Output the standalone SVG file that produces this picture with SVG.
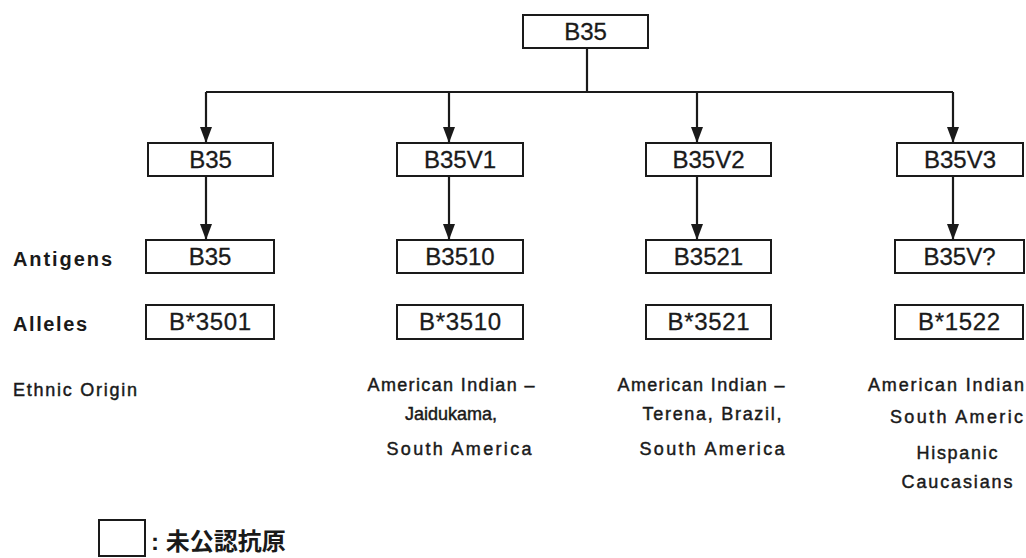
<svg xmlns="http://www.w3.org/2000/svg" width="1026" height="558" viewBox="0 0 1026 558">
<style>
.box{fill:#fff;stroke:#1a1a1a;stroke-width:2}
.bt{font-family:"Liberation Sans",Arial,sans-serif;font-size:24px;fill:#1a1a1a;stroke:#1a1a1a;stroke-width:0.3;text-anchor:middle}
.lbl{font-family:"Liberation Sans",Arial,sans-serif;font-size:20px;font-weight:bold;fill:#1a1a1a}
.eth{font-family:"Liberation Sans",Arial,sans-serif;font-size:18px;fill:#1a1a1a;stroke:#1a1a1a;stroke-width:0.45;text-anchor:middle}
.ln{fill:none;stroke:#1a1a1a;stroke-width:2.2}
.leg{font-family:"Liberation Sans","Noto Sans CJK JP",sans-serif;font-size:24px;font-weight:bold;fill:#1a1a1a}
</style>
<defs>
<marker id="ah" viewBox="0 0 16 12" refX="16" refY="6" markerWidth="16" markerHeight="12" markerUnits="userSpaceOnUse" orient="auto">
<path d="M0,0 L16,6 L0,12 Z" fill="#1a1a1a"/>
</marker>
</defs>
<rect width="1026" height="558" fill="#fff"/>
<g id="connectors">
<path class="ln" d="M587,48 V92"/>
<path class="ln" d="M206,92 H953"/>
<path class="ln" d="M206,92 V143" marker-end="url(#ah)"/>
<path class="ln" d="M449,92 V143" marker-end="url(#ah)"/>
<path class="ln" d="M697,92 V143" marker-end="url(#ah)"/>
<path class="ln" d="M953,92 V143" marker-end="url(#ah)"/>
<path class="ln" d="M206,176 V240" marker-end="url(#ah)"/>
<path class="ln" d="M449,176 V240" marker-end="url(#ah)"/>
<path class="ln" d="M697,176 V240" marker-end="url(#ah)"/>
<path class="ln" d="M953,176 V240" marker-end="url(#ah)"/>
</g>
<g id="root"><rect class="box" x="523" y="15" width="125" height="33"/><text class="bt" x="585.5" y="40">B35</text></g>
<g id="r2c1"><rect class="box" x="148" y="143" width="125" height="33"/><text class="bt" x="210.5" y="168">B35</text></g>
<g id="r2c2"><rect class="box" x="397" y="143" width="126" height="33"/><text class="bt" x="460" y="168">B35V1</text></g>
<g id="r2c3"><rect class="box" x="646" y="143" width="125" height="33"/><text class="bt" x="708.5" y="168">B35V2</text></g>
<g id="r2c4"><rect class="box" x="897" y="143" width="126" height="33"/><text class="bt" x="960" y="168">B35V3</text></g>
<g id="r3c1"><rect class="box" x="146" y="240" width="128" height="33"/><text class="bt" x="210" y="265">B35</text></g>
<g id="r3c2"><rect class="box" x="397" y="240" width="126" height="33"/><text class="bt" x="460" y="265">B3510</text></g>
<g id="r3c3"><rect class="box" x="646" y="240" width="125" height="33"/><text class="bt" x="708.5" y="265">B3521</text></g>
<g id="r3c4"><rect class="box" x="895" y="240" width="129" height="33"/><text class="bt" x="959.5" y="265">B35V?</text></g>
<g id="r4c1"><rect class="box" x="146" y="305" width="128" height="34"/><text class="bt" x="210" y="330" textLength="82">B*3501</text></g>
<g id="r4c2"><rect class="box" x="397" y="305" width="126" height="34"/><text class="bt" x="460" y="330" textLength="82">B*3510</text></g>
<g id="r4c3"><rect class="box" x="646" y="305" width="125" height="34"/><text class="bt" x="708.5" y="330" textLength="82">B*3521</text></g>
<g id="r4c4"><rect class="box" x="895" y="305" width="128" height="34"/><text class="bt" x="959" y="330" textLength="82">B*1522</text></g>
<g id="labels">
<text class="lbl" x="13" y="266" textLength="99">Antigens</text>
<text class="lbl" x="13" y="331" textLength="74">Alleles</text>
<text class="eth" x="75" y="396" textLength="124">Ethnic Origin</text>
</g>
<g id="eth2">
<text class="eth" x="451" y="391" textLength="167">American Indian –</text>
<text class="eth" x="451" y="420" textLength="92">Jaidukama,</text>
<text class="eth" x="459" y="455" textLength="145">South America</text>
</g>
<g id="eth3">
<text class="eth" x="701" y="391" textLength="167">American Indian –</text>
<text class="eth" x="712" y="420" textLength="139">Terena, Brazil,</text>
<text class="eth" x="712" y="455" textLength="145">South America</text>
</g>
<g id="eth4">
<text class="eth" x="868" y="391" textLength="156" style="text-anchor:start">American Indian</text>
<text class="eth" x="890" y="423" textLength="133" style="text-anchor:start">South Americ</text>
<text class="eth" x="957" y="459" textLength="81">Hispanic</text>
<text class="eth" x="957" y="488" textLength="111">Caucasians</text>
</g>
<g id="legend">
<rect class="box" x="99" y="520" width="46" height="36"/>
<text class="leg" x="151" y="550">: 未公認抗原</text>
</g>
</svg>
